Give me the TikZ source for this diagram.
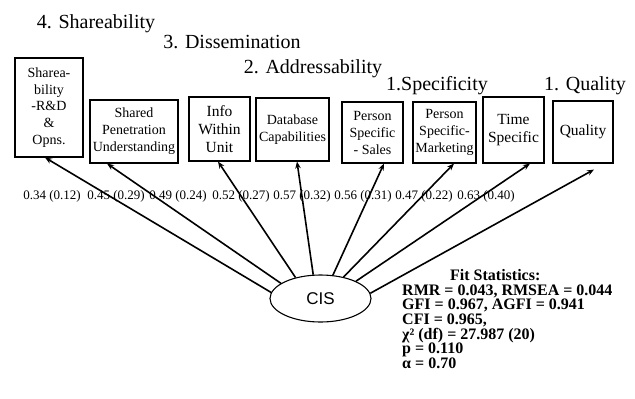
\documentclass[tikz,border=0pt]{standalone}
\usepackage{fontspec}
\setmainfont{Liberation Serif}
\newfontfamily\helv{Liberation Sans}
\usetikzlibrary{arrows.meta,shapes.geometric}

\begin{document}
\begin{tikzpicture}[x=1pt,y=-1pt,
  box/.style={draw,line width=1.1pt,inner sep=0pt,align=center,
    font=\fontsize{14}{17}\selectfont},
  bigbox/.style={box,font=\fontsize{15.5}{18}\selectfont},
  heading/.style={anchor=base,inner sep=0pt,font=\fontsize{20}{24}\selectfont},
  loading/.style={anchor=base,inner sep=0pt,font=\fontsize{13}{15}\selectfont},
  link/.style={line width=1.6pt,-{Stealth[length=7pt,width=5.5pt]}},
  latent/.style={ellipse,draw,line width=1.1pt,inner sep=0pt,
    minimum width=101pt,minimum height=47pt,font=\helv\fontsize{17}{20}\selectfont},
  stats/.style={anchor=west,inner sep=0pt,align=left,
    font=\bfseries\fontsize{16}{14.7}\selectfont}
]
\useasboundingbox (0,0) rectangle (635,399);

% construct headings
\node[heading] (h4) at (96,28) {4. Shareability};
\node[heading] (h3) at (232,48.5) {3. Dissemination};
\node[heading] (h2) at (313,73.5) {2. Addressability};
\node[heading] (h1s) at (437,90) {1.Specificity};
\node[heading] (h1q) at (585,90) {1. Quality};

% indicator boxes
\node[box,minimum width=68pt,minimum height=99pt,font=\fontsize{14}{16.7}\selectfont]
  (b1) at (49,107.5) {Sharea-\\bility\\-R\&D\\\&\\Opns.};
\node[box,minimum width=88pt,minimum height=63pt] (b2) at (134,131.5)
  {Shared\\Penetration\\Understanding};
\node[bigbox,minimum width=61pt,minimum height=64pt] (b3) at (219.5,129)
  {Info\\Within\\Unit};
\node[box,minimum width=73pt,minimum height=63pt] (b4) at (292.5,129.5)
  {Database\\Capabilities};
\node[box,minimum width=61pt,minimum height=61pt] (b5) at (372.5,132.5)
  {Person\\Specific\\- Sales};
\node[box,minimum width=63pt,minimum height=61pt] (b6) at (444.5,132.5)
  {Person\\Specific-\\Marketing};
\node[bigbox,minimum width=61pt,minimum height=66pt] (b7) at (513.5,130)
  {Time\\Specific};
\node[bigbox,minimum width=60pt,minimum height=62pt] (b8) at (583,132)
  {Quality};

% loadings (standardised, R-squared in brackets)
\node[loading] (l1) at (52,199) {0.34 (0.12)};
\node[loading] (l2) at (116,199) {0.45 (0.29)};
\node[loading] (l3) at (178,199) {0.49 (0.24)};
\node[loading] (l4) at (241,199) {0.52 (0.27)};
\node[loading] (l5) at (302,199) {0.57 (0.32)};
\node[loading] (l6) at (363,199) {0.56 (0.31)};
\node[loading] (l7) at (424,199) {0.47 (0.22)};
\node[loading] (l8) at (486,199) {0.63 (0.40)};

% latent factor
\node[latent] (cis) at (320.5,298.5) {CIS};

% paths from the factor to its indicators
\draw[link] (cis.173.8) -- ([xshift=-4pt]b1.south);
\draw[link] (cis.159.1) -- ([xshift=-27pt]b2.south);
\draw[link] (cis.140.1) -- ([xshift=-1.5pt]b3.south);
\draw[link] (cis.107.7) -- ([xshift=4.5pt]b4.south);
\draw[link] (cis.62.9) -- ([xshift=11.5pt]b5.south);
\draw[link] (cis.43.7) -- ([xshift=9.5pt]b6.south);
\draw[link] (cis.26.9) -- ([xshift=16.5pt]b7.south);
\draw[link] (cis.6.5) -- ([xshift=11pt,yshift=-6pt]b8.south);

% model fit
\node[stats] (fit) at (402,319) {\hspace*{48pt}Fit Statistics:\\
RMR = 0.043, RMSEA = 0.044\\
GFI = 0.967, AGFI = 0.941\\
CFI = 0.965,\\
χ² (df) = 27.987 (20)\\
p = 0.110\\
α = 0.70};
\end{tikzpicture}
\end{document}
